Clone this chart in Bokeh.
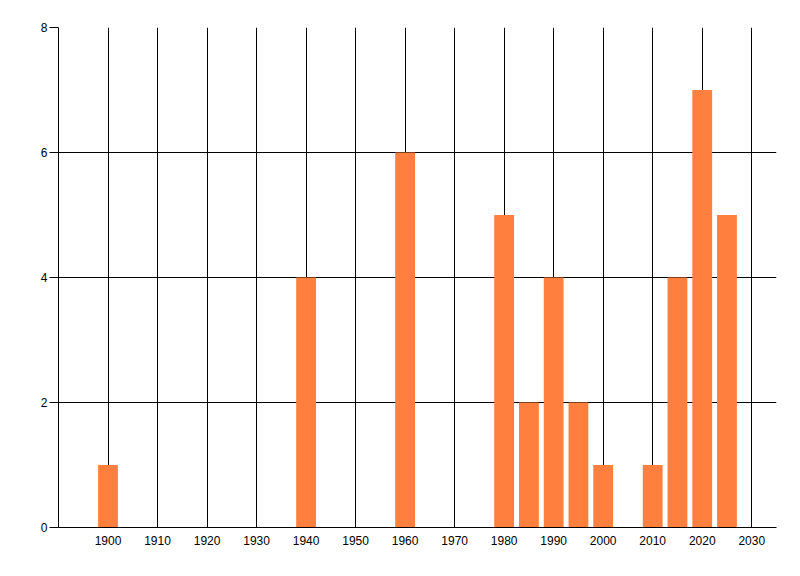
from bokeh.plotting import figure
from bokeh.models import FixedTicker, Range1d, ColumnDataSource
from bokeh.embed import file_html
from bokeh.resources import INLINE

years = [1900, 1940, 1960, 1980, 1985, 1990, 1995, 2000, 2010, 2015, 2020, 2025]
counts = [1, 4, 6, 5, 2, 4, 2, 1, 1, 4, 7, 5]
x_ticks = [1900, 1910, 1920, 1930, 1940, 1950, 1960, 1970, 1980, 1990, 2000, 2010, 2020, 2030]
y_ticks = [0, 2, 4, 6, 8]

src = ColumnDataSource(data=dict(year=years, count=counts))

p = figure(width=784, height=560, output_backend="svg", toolbar_location=None,
           x_range=Range1d(1890, 2035), y_range=Range1d(0, 8),
           min_border_left=58, min_border_right=8, min_border_top=27, min_border_bottom=33)
p.outline_line_color = None
p.background_fill_color = "white"
p.border_fill_color = "white"

p.vbar(x="year", top="count", bottom=0, width=4, source=src,
       fill_color="#FF7F3F", line_color=None)

for ax in (p.xaxis[0], p.yaxis[0]):
    ax.axis_line_color = "black"
    ax.axis_line_width = 1
    ax.major_tick_line_color = "black"
    ax.minor_tick_line_color = None
    ax.major_label_text_font = "Liberation Sans"
    ax.major_label_text_font_size = "12px"
    ax.major_label_text_color = "black"

p.xaxis.ticker = FixedTicker(ticks=x_ticks)
p.xaxis.major_tick_out = 0
p.xaxis.major_tick_in = 0
p.xaxis.major_label_standoff = 8

p.yaxis.ticker = FixedTicker(ticks=y_ticks)
p.yaxis.major_tick_out = 9
p.yaxis.major_tick_in = 0
p.yaxis.major_label_standoff = 2

p.xgrid.ticker = FixedTicker(ticks=x_ticks)
p.ygrid.ticker = FixedTicker(ticks=y_ticks)
p.xgrid.grid_line_color = "black"
p.ygrid.grid_line_color = "black"
p.xgrid.grid_line_width = 1
p.ygrid.grid_line_width = 1

p.xgrid.level = "underlay"
p.ygrid.level = "underlay"

open("out.html", "w").write(file_html(p, INLINE))
